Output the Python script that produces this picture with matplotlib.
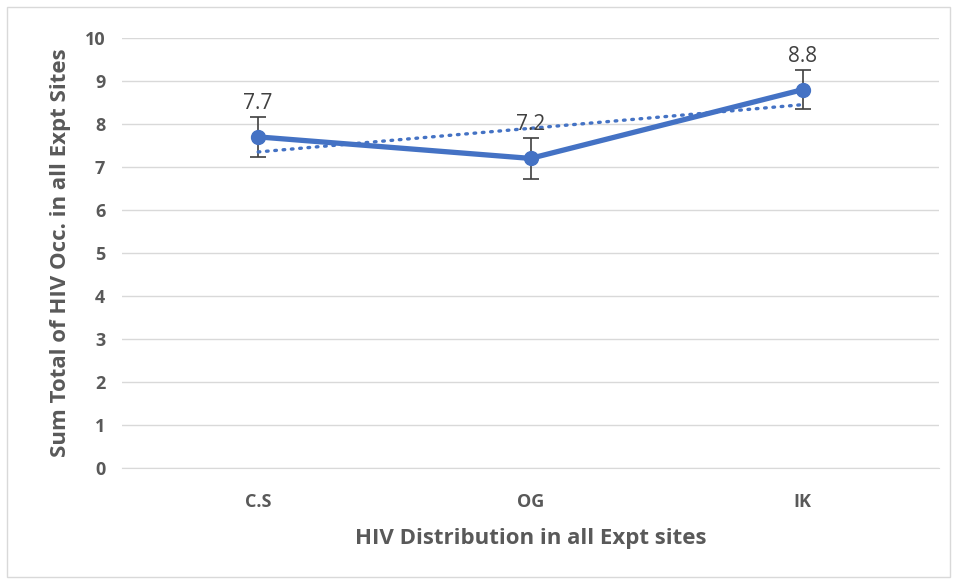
import matplotlib.pyplot as plt
import numpy as np
from matplotlib.patches import Rectangle

sites = ['C.S', 'OG', 'IK']
occ = [7.7, 7.2, 8.8]
err = [0.46, 0.47, 0.45]

blue = '#4472C4'
grey = '#595959'

fig = plt.figure(figsize=(9.57, 5.84), dpi=100)
ax = fig.add_axes([122 / 957, 1 - 468 / 584, (939 - 122) / 957, (468 - 38) / 584])

x = np.arange(1, len(sites) + 1)
ax.errorbar(x, occ, yerr=err, fmt='none', ecolor='#404040', elinewidth=1.2,
            capsize=6, capthick=1.2, zorder=2)
ax.plot(x, occ, color=blue, lw=3.8, marker='o', markersize=10, zorder=3)

# linear trendline
k, b = np.polyfit(x, occ, 1)
ax.plot(x, k * x + b, color=blue, lw=2.4, linestyle=(0, (0.5, 2.0)),
        dash_capstyle='round', zorder=2.5)

for xi, yi, ei in zip(x, occ, err):
    ax.text(xi, yi + ei + 0.08, f'{yi}', ha='center', va='bottom',
            fontsize=15, color='#404040', family='Open Sans')

ax.set_xlim(0.5, 3.5)
ax.set_ylim(0, 10)
ax.set_yticks(range(0, 11))
ax.set_xticks(x)
ax.set_xticklabels(sites)
ax.grid(axis='y', color='#D9D9D9', lw=1)
ax.set_axisbelow(True)
for s in ['top', 'right', 'left']:
    ax.spines[s].set_visible(False)
ax.spines['bottom'].set_color('#D9D9D9')
ax.tick_params(length=0, colors=grey, labelsize=13, pad=10)
for lab in ax.get_xticklabels() + ax.get_yticklabels():
    lab.set_fontweight('bold')
    lab.set_family('Open Sans')
ax.tick_params(axis='y', pad=12)
ax.tick_params(axis='x', pad=18)

ax.set_xlabel('HIV Distribution in all Expt sites', fontsize=16, color=grey,
              fontweight='bold', family='Open Sans', labelpad=12)
ax.set_ylabel('Sum Total of HIV Occ. in all Expt Sites', fontsize=16, color=grey,
              fontweight='bold', family='Open Sans', labelpad=10)

fig.patches.append(Rectangle((7 / 957, 7 / 584), 943 / 957, 570 / 584,
                             transform=fig.transFigure, fill=False,
                             edgecolor='#D9D9D9', lw=1))

plt.savefig('out.png', dpi=100)
